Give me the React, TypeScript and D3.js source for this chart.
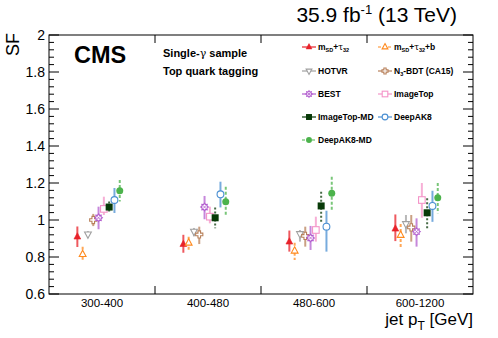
import React from "react";
import * as d3 from "d3";

const categories = ["300-400", "400-480", "480-600", "600-1200"];
const yTicks = [0.6, 0.8, 1, 1.2, 1.4, 1.6, 1.8, 2];
const yTickLabels = ["0.6", "0.8", "1", "1.2", "1.4", "1.6", "1.8", "2"];

// per series: central values, upper and lower errors per category
const msdTau = [0.91, 0.87, 0.883, 0.953];
const msdTauUp = [0.055, 0.05, 0.06, 0.077];
const msdTauDn = [0.056, 0.047, 0.054, 0.067];

const msdTauB = [0.816, 0.877, 0.834, 0.919];
const msdTauBUp = [0.04, 0.033, 0.043, 0.059];
const msdTauBDn = [0.041, 0.048, 0.05, 0.067];

const hotvr = [0.922, 0.937, 0.924, 0.978];
const hotvrUp = [0.018, 0.02, 0.022, 0.049];
const hotvrDn = [0.02, 0.025, 0.041, 0.05];

const n3bdt = [1.0, 0.922, 0.914, 0.96];
const n3bdtUp = [0.033, 0.042, 0.05, 0.067];
const n3bdtDn = [0.033, 0.052, 0.058, 0.077];

const best = [1.012, 1.07, 0.903, 0.937];
const bestUp = [0.06, 0.06, 0.065, 0.072];
const bestDn = [0.062, 0.066, 0.065, 0.081];

const imageTop = [1.06, 1.018, 0.946, 1.108];
const imageTopUp = [0.066, 0.054, 0.072, 0.092];
const imageTopDn = [0.033, 0.036, 0.063, 0.096];

const imageTopMD = [1.07, 1.012, 1.076, 1.039];
const imageTopMDUp = [0.03, 0.056, 0.077, 0.078];
const imageTopMDDn = [0.03, 0.057, 0.086, 0.093];

const deepAK8 = [1.108, 1.139, 0.964, 1.076];
const deepAK8Up = [0.065, 0.068, 0.086, 0.082];
const deepAK8Dn = [0.07, 0.071, 0.135, 0.086];

const deepAK8MD = [1.158, 1.099, 1.144, 1.12];
const deepAK8MDUp = [0.058, 0.081, 0.09, 0.08];
const deepAK8MDDn = [0.058, 0.081, 0.099, 0.084];

type Marker = "triUpFilled" | "triUpOpen" | "triDownOpen" | "crossOpen" | "star" | "squareOpen" | "squareFilled" | "circleOpen" | "circleFilled";

const series: { name: string; color: string; marker: Marker; dash: string | null; legendDash: string | null; v: number[]; up: number[]; dn: number[] }[] = [
  { name: "msd", color: "#e8222a", marker: "triUpFilled", dash: null, legendDash: null, v: msdTau, up: msdTauUp, dn: msdTauDn },
  { name: "msdb", color: "#ff8a1e", marker: "triUpOpen", dash: "3,2", legendDash: "3,2", v: msdTauB, up: msdTauBUp, dn: msdTauBDn },
  { name: "HOTVR", color: "#a0a0a0", marker: "triDownOpen", dash: null, legendDash: null, v: hotvr, up: hotvrUp, dn: hotvrDn },
  { name: "N3", color: "#b8805a", marker: "crossOpen", dash: null, legendDash: null, v: n3bdt, up: n3bdtUp, dn: n3bdtDn },
  { name: "BEST", color: "#b35fcf", marker: "star", dash: null, legendDash: null, v: best, up: bestUp, dn: bestDn },
  { name: "ImageTop", color: "#f494c8", marker: "squareOpen", dash: null, legendDash: null, v: imageTop, up: imageTopUp, dn: imageTopDn },
  { name: "ImageTop-MD", color: "#083a08", marker: "squareFilled", dash: "2,2", legendDash: null, v: imageTopMD, up: imageTopMDUp, dn: imageTopMDDn },
  { name: "DeepAK8", color: "#4a8fd2", marker: "circleOpen", dash: null, legendDash: null, v: deepAK8, up: deepAK8Up, dn: deepAK8Dn },
  { name: "DeepAK8-MD", color: "#4cb34c", marker: "circleFilled", dash: "3,2", legendDash: "3,2", v: deepAK8MD, up: deepAK8MDUp, dn: deepAK8MDDn },
];

const FONT = "'Liberation Sans', Arial, Helvetica, sans-serif";

function MarkerShape({ m, color, x, y, k = 1 }: { m: Marker; color: string; x: number; y: number; k?: number }) {
  const s = 3.4 * k;
  const sw = 1.1;
  switch (m) {
    case "triUpFilled":
      return <path d={`M${x},${y - s - 0.5}L${x + s},${y + s - 1}L${x - s},${y + s - 1}Z`} fill={color} stroke={color} strokeWidth={0.6} />;
    case "triUpOpen":
      return <path d={`M${x},${y - s - 0.5}L${x + s},${y + s - 1}L${x - s},${y + s - 1}Z`} fill="white" stroke={color} strokeWidth={sw} />;
    case "triDownOpen":
      return <path d={`M${x},${y + s + 0.5}L${x + s},${y - s + 1}L${x - s},${y - s + 1}Z`} fill="white" stroke={color} strokeWidth={sw} />;
    case "crossOpen": {
      const a = 1.3 * k, b = 3.6 * k;
      return <path d={`M${x - a},${y - b}H${x + a}V${y - a}H${x + b}V${y + a}H${x + a}V${y + b}H${x - a}V${y + a}H${x - b}V${y - a}H${x - a}Z`} fill="white" stroke={color} strokeWidth={sw} />;
    }
    case "star": {
      const pts: string[] = [];
      for (let i = 0; i < 16; i++) {
        const r = (i % 2 === 0 ? 3.8 : 2.6) * k;
        const ang = (i * Math.PI) / 8;
        pts.push(`${x + r * Math.cos(ang)},${y + r * Math.sin(ang)}`);
      }
      const c = 1.6 * k;
      return (
        <g>
          <path d={`M${pts.join("L")}Z`} fill="white" stroke={color} strokeWidth={sw} />
          <path d={`M${x - c},${y - c}L${x + c},${y + c}M${x - c},${y + c}L${x + c},${y - c}`} stroke={color} strokeWidth={0.8} />
        </g>
      );
    }
    case "squareOpen":
      return <rect x={x - 3.3 * k} y={y - 3.3 * k} width={6.6 * k} height={6.6 * k} fill="white" stroke={color} strokeWidth={sw} />;
    case "squareFilled":
      return <rect x={x - 3.5 * k} y={y - 3.5 * k} width={7 * k} height={7 * k} fill={color} />;
    case "circleOpen":
      return <circle cx={x} cy={y} r={3.4 * k} fill="white" stroke={color} strokeWidth={sw} />;
    case "circleFilled":
      return <circle cx={x} cy={y} r={3.5 * k} fill={color} />;
  }
}

function legendLabel(name: string) {
  if (name === "msd")
    return (
      <>
        m<tspan fontSize={5.5} dy={2}>SD</tspan><tspan dy={-2}>+</tspan><tspan fontFamily="'DejaVu Serif', serif" fontWeight="normal">τ</tspan><tspan fontSize={5.5} dy={2}>32</tspan>
      </>
    );
  if (name === "msdb")
    return (
      <>
        m<tspan fontSize={5.5} dy={2}>SD</tspan><tspan dy={-2}>+</tspan><tspan fontFamily="'DejaVu Serif', serif" fontWeight="normal">τ</tspan><tspan fontSize={5.5} dy={2}>32</tspan><tspan dy={-2}>+b</tspan>
      </>
    );
  if (name === "N3")
    return (
      <>
        N<tspan fontSize={5.5} dy={2}>3</tspan><tspan dy={-2}>-BDT (CA15)</tspan>
      </>
    );
  return name;
}

export default function App() {
  const W = 498, H = 338;
  const left = 49, right = 473, top = 35, bottom = 294;
  const x = d3.scaleBand<string>().domain(categories).range([left, right]).padding(0);
  const y = d3.scaleLinear().domain([0.6, 2]).range([bottom, top]);
  const bw = x.bandwidth();
  const minorTicks = d3.range(0.6, 2.0001, 0.04).map((v) => +v.toFixed(2));
  const majorLen = 10, minorLen = 5;

  const legendRows = [47, 71, 94, 117, 140];
  const legendCols = [309, 385];

  return (
    <svg width={W} height={H} style={{ position: "absolute", left: 0, top: 0, background: "white" }} fontFamily={FONT}>
      <rect x={0} y={0} width={W} height={H} fill="white" />
      <rect x={left} y={top} width={right - left} height={bottom - top} fill="none" stroke="black" strokeWidth={1} />
      {minorTicks.map((v, i) => {
        const isMajor = Math.abs(((v - 0.6) / 0.2) - Math.round((v - 0.6) / 0.2)) < 1e-6;
        const len = isMajor ? majorLen : minorLen;
        return (
          <g key={i}>
            <line x1={left} x2={left + len} y1={y(v)} y2={y(v)} stroke="black" strokeWidth={1} />
            <line x1={right} x2={right - len} y1={y(v)} y2={y(v)} stroke="black" strokeWidth={1} />
          </g>
        );
      })}
      {yTicks.map((v, i) => (
        <text key={i} x={45} y={y(v) + 5} textAnchor="end" fontSize={14}>{yTickLabels[i]}</text>
      ))}
      {categories.slice(1).map((c) => (
        <g key={c}>
          <line x1={x(c)!} x2={x(c)!} y1={bottom} y2={bottom - 8} stroke="black" />
          <line x1={x(c)!} x2={x(c)!} y1={top} y2={top + 8} stroke="black" />
        </g>
      ))}
      {categories.map((c) => (
        <text key={c} x={x(c)! + bw / 2} y={307} textAnchor="middle" fontSize={11.5}>{c}</text>
      ))}
      <text x={right} y={325} textAnchor="end" fontSize={17}>
        jet p<tspan fontSize={12} dy={5}>T</tspan><tspan dy={-5}> [GeV]</tspan>
      </text>
      <text transform={`translate(19,33) rotate(-90)`} textAnchor="end" fontSize={18}>SF</text>
      <text x={457} y={22} textAnchor="end" fontSize={21}>
        35.9 fb<tspan fontSize={13} dy={-8}>-1</tspan><tspan dy={8}> (13 TeV)</tspan>
      </text>
      <text x={74} y={63} fontSize={23.5} fontWeight="bold">CMS</text>
      <text x={163} y={56.5} fontSize={11} fontWeight="bold">Single-<tspan fontFamily="'DejaVu Serif', serif" fontWeight="normal">γ</tspan> sample</text>
      <text x={163} y={75} fontSize={11} fontWeight="bold">Top quark tagging</text>

      {series.map((s, si) => (
        <g key={s.name}>
          {categories.map((c, ci) => {
            const px = x(c)! + bw / 2 + (si - 4.65) * bw * 0.05;
            const py = y(s.v[ci]);
            return (
              <g key={c}>
                <line x1={px} x2={px} y1={y(s.v[ci] + s.up[ci])} y2={y(s.v[ci] - s.dn[ci])} stroke={s.color} strokeWidth={2} strokeOpacity={0.75} strokeDasharray={s.dash ?? undefined} />
                <MarkerShape m={s.marker} color={s.color} x={px} y={py} />
              </g>
            );
          })}
        </g>
      ))}

      {series.map((s, si) => {
        const col = si % 2;
        const row = Math.floor(si / 2);
        const mx = legendCols[col];
        const my = legendRows[row];
        return (
          <g key={s.name}>
            <line x1={mx - 7} x2={mx + 7} y1={my} y2={my} stroke={s.color} strokeWidth={1.2} strokeDasharray={s.legendDash ?? undefined} />
            <MarkerShape m={s.marker} color={s.color} x={mx} y={my} k={0.85} />
            <text x={mx + 9} y={my + 3} fontSize={8.5} fontWeight="bold">{legendLabel(s.name)}</text>
          </g>
        );
      })}
    </svg>
  );
}
